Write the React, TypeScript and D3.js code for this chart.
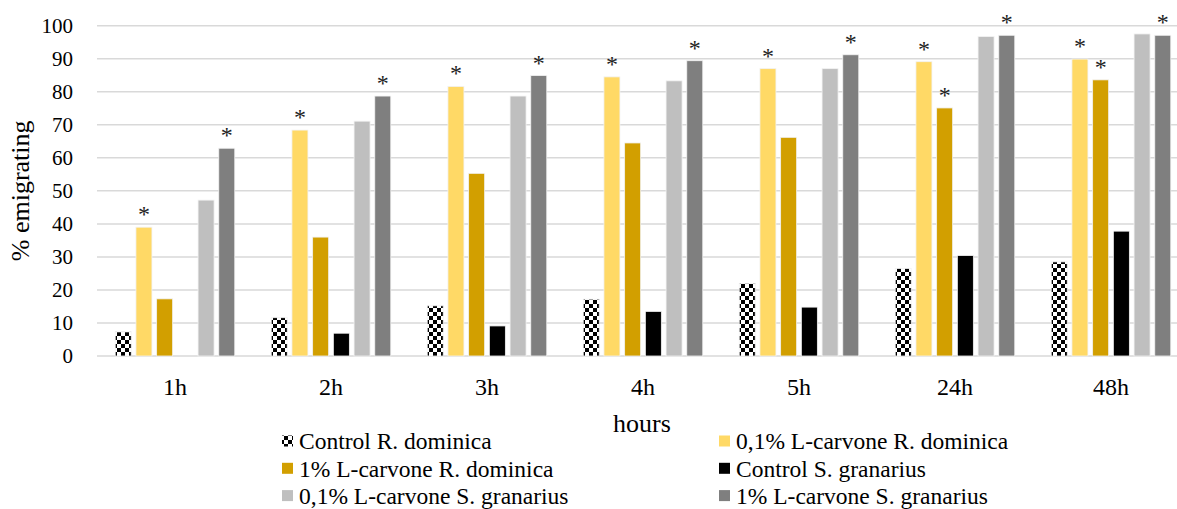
import React from 'react';
import * as d3 from 'd3';

const hours = ['1h', '2h', '3h', '4h', '5h', '24h', '48h'];
const seriesNames = [
  'Control R. dominica',
  '0,1% L-carvone R. dominica',
  '1% L-carvone R. dominica',
  'Control S. granarius',
  '0,1% L-carvone S. granarius',
  '1% L-carvone S. granarius',
];
const controlRD = [7.3, 11.6, 15.2, 17.2, 22.0, 26.5, 28.5];
const lowRD = [39.0, 68.4, 81.6, 84.5, 87.0, 89.1, 89.9];
const highRD = [17.3, 36.0, 55.3, 64.5, 66.2, 75.1, 83.6];
const controlSG = [0, 6.9, 9.1, 13.5, 14.8, 30.4, 37.8];
const lowSG = [47.2, 71.1, 78.7, 83.3, 87.0, 96.7, 97.5];
const highSG = [62.9, 78.7, 84.9, 89.4, 91.2, 97.1, 97.1];
// which bars carry an asterisk
const starLowRD = [true, true, true, true, true, true, true];
const starHighRD = [false, false, false, false, false, true, true];
const starHighSG = [true, true, true, true, true, true, true];
const yTicks = [0, 10, 20, 30, 40, 50, 60, 70, 80, 90, 100];

const seriesValues = [controlRD, lowRD, highRD, controlSG, lowSG, highSG];
const seriesStars = [null, starLowRD, starHighRD, null, null, starHighSG];
const fills = ['url(#checker)', '#FFD966', '#D29F00', '#000000', '#BFBFBF', '#7F7F7F'];

const W = 1177;
const H = 509;

export default function App() {
  const x = d3.scaleBand().domain(hours).range([97, 1189]);
  const xs = d3
    .scaleBand<number>()
    .domain(d3.range(seriesNames.length))
    .range([0, x.bandwidth()])
    .paddingInner(0.227)
    .paddingOuter(0.88);
  const y = d3.scaleLinear().domain([0, 100]).range([356, 25.7]);

  return (
    <svg
      width={W}
      height={H}
      fontFamily="Liberation Serif"
      style={{ position: 'absolute', left: 0, top: 0, background: 'white' }}
    >
      <defs>
        <pattern id="checker" width={8} height={8} patternUnits="userSpaceOnUse">
          <rect width={8} height={8} fill="#fff" />
          <rect x={0} y={0} width={4} height={4} fill="#000" />
          <rect x={4} y={4} width={4} height={4} fill="#000" />
        </pattern>
      </defs>

      {yTicks.map(t => (
        <g key={t}>
          <line x1={97} x2={W} y1={y(t)} y2={y(t)} stroke="#D9D9D9" strokeWidth={1.5} />
          <text x={73} y={y(t)} dy="0.35em" textAnchor="end" fontSize={21} fill="#000">
            {t}
          </text>
        </g>
      ))}

      {hours.map((h, i) => (
        <g key={h} transform={`translate(${x(h)},0)`}>
          {seriesValues.map((vals, s) => {
            const v = vals[i];
            const bx = xs(s)!;
            const stars = seriesStars[s];
            return (
              <g key={s}>
                {v > 0 && (
                  <rect
                    x={bx}
                    y={y(v)}
                    width={xs.bandwidth()}
                    height={y(0) - y(v)}
                    fill={fills[s]}
                    stroke="#F2F2F2"
                    strokeWidth={0.8}
                  />
                )}
                {stars && stars[i] && (
                  <text
                    x={bx + xs.bandwidth() / 2}
                    y={y(v) - 5}
                    textAnchor="middle"
                    fontSize={24}
                    fill="#222"
                  >
                    *
                  </text>
                )}
              </g>
            );
          })}
          <text x={x.bandwidth() / 2} y={387} dy="0.35em" textAnchor="middle" fontSize={24}>
            {h}
          </text>
        </g>
      ))}

      <text x={642} y={423} dy="0.35em" textAnchor="middle" fontSize={26}>
        hours
      </text>
      <text
        transform={`translate(20,${y(50)}) rotate(-90)`}
        textAnchor="middle"
        dy="0.35em"
        fontSize={26}
      >
        % emigrating
      </text>

      {seriesNames.map((name, s) => {
        const col = s % 2;
        const row = Math.floor(s / 2);
        const lx = col === 0 ? 282 : 719;
        const ly = 441 + row * 27.3;
        return (
          <g key={name}>
            <rect x={lx} y={ly - 5.5} width={11} height={11} fill={fills[s]} />
            <text x={lx + 17} y={ly} dy="0.35em" fontSize={23.5}>
              {name}
            </text>
          </g>
        );
      })}
    </svg>
  );
}
